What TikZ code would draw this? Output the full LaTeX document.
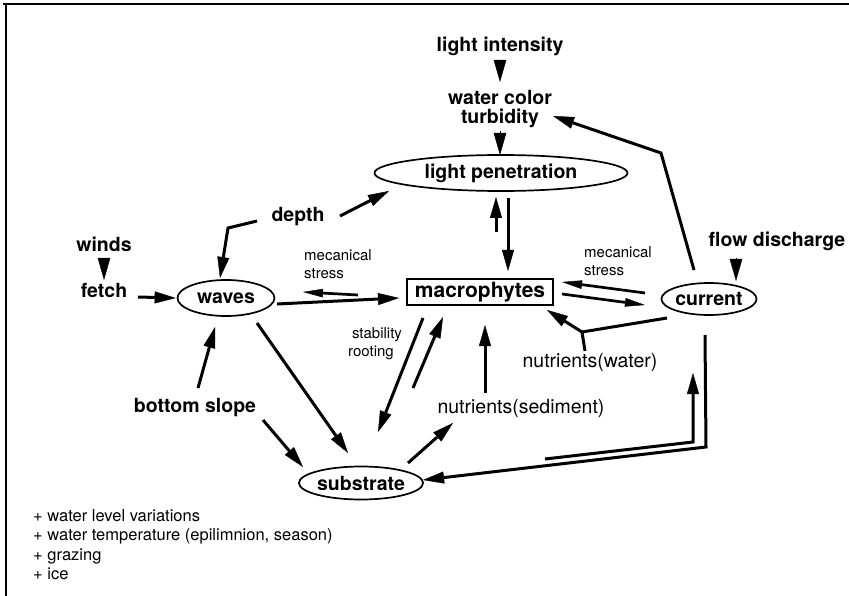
\documentclass[tikz,border=0pt]{standalone}
\usepackage{fontspec}
\setmainfont{TeX Gyre Heros}
\usetikzlibrary{arrows.meta,shapes.geometric,calc}
\begin{document}
\begin{tikzpicture}[x=1pt,y=-1pt,
  bt/.style={font=\fontsize{19.5}{22}\selectfont\bfseries, inner sep=0pt, text height=14pt, text depth=4pt},
  ell/.style={ellipse, draw, line width=1.7pt, inner sep=0pt, font=\fontsize{19.5}{22}\selectfont\bfseries},
  nt/.style={font=\fontsize{19.5}{22}\selectfont, inner sep=0pt, text height=14pt, text depth=4pt},
  sm/.style={font=\fontsize{15}{18}\selectfont, inner sep=0pt, align=left},
  fn/.style={font=\fontsize{16.5}{19}\selectfont, inner sep=0pt, anchor=base west},
  arr/.style={line width=3pt, -{Triangle[length=21pt,width=12pt,line width=0.4pt]}},
  sarr/.style={line width=2.7pt, -{Triangle[length=20pt,width=8.5pt,line width=0.4pt]}},
  tri/.style={line width=1pt, -{Triangle[length=22pt,width=12.5pt,line width=0.4pt]}},
  ln/.style={line width=3pt}
]
\useasboundingbox (0,0) rectangle (849,596);
% frame
\draw[line width=1.5pt] (3,4) -- (849,4);
\draw[line width=1.5pt] (6,4) -- (6,596);

% nodes
\node[bt] (lint) at (500,47) {light intensity};
\node[font=\fontsize{19.5}{18.5}\selectfont\bfseries, inner sep=0pt, align=center] (wcol) at (500,109) {water color\\turbidity};
\node[ell, minimum width=253pt, minimum height=36pt] (lpen) at (501,173) {light penetration};
\node[bt] (depth) at (298,217) {depth};
\node[bt] (winds) at (104,247) {winds};
\node[bt] (fetch) at (104,293) {fetch};
\node[ell, minimum width=97pt, minimum height=36pt] (waves) at (226,298) {waves};
\node[draw, line width=1.4pt, minimum width=146pt, minimum height=26pt, inner sep=0pt, font=\fontsize{21}{24}\selectfont\bfseries] (macro) at (480,292) {macrophytes};
\node[ell, minimum width=95pt, minimum height=32pt] (current) at (709,299) {current};
\node[bt] (flowd) at (777,242) {flow discharge};
\node[nt] (nutw) at (590,362) {nutrients(water)};
\node[nt] (nuts) at (521,408) {nutrients(sediment)};
\node[bt] (bslope) at (195,407) {bottom slope};
\node[ell, minimum width=114pt, minimum height=33pt] (subs) at (361,483) {substrate};
\node[sm, anchor=west] (ms1) at (304,264) {mecanical\\stress};
\node[sm, anchor=west] (ms2) at (584,261) {mecanical\\stress};
\node[sm, align=center] (stab) at (377,344) {stability\\rooting\kern12pt};
\node[fn] (fn1) at (33,521) {+ water level variations};
\node[fn] (fn2) at (33,540.5) {+ water temperature (epilimnion, season)};
\node[fn] (fn3) at (33,560) {+ grazing};
\node[fn] (fn4) at (33,579.5) {+ ice};
\coordinate (jn) at (582,332);

% connectors
\draw[tri] ($(lint)+(0,13)$) -- ($(wcol)+(0,-27)$);
\draw[tri] ($(wcol)+(0,22)$) -- ($(lpen)+(-1,-18)$);
\draw[arr] ($(depth)+(42,-1)$) -- ($(lpen)+(-112,18)$);
\draw[arr] ($(depth)+(-41,4)$) -- ($(waves)+(2,-70)$) -- ($(waves)+(-6,-20)$);
\draw[tri] ($(winds)+(0,11)$) -- ($(fetch)+(0,-13)$);
\draw[arr] ($(fetch)+(34,4)$) -- ($(waves.west)+(-1,0)$);
\draw[arr] ($(waves)+(51,6)$) -- ($(macro)+(-81,6)$);
\draw[sarr] ($(macro)+(-122,3)$) -- ($(waves)+(77,-6)$);
\draw[arr] ($(lpen)+(7,25)$) -- ($(macro)+(28,-21)$);
\draw[arr] ($(macro)+(16,-60)$) -- ($(lpen)+(-5,24)$);
\draw[sarr] ($(current)+(-64,-6)$) -- ($(macro)+(82,-10)$);
\draw[sarr] ($(macro)+(82,2)$) -- ($(current)+(-64,6)$);
\draw[tri] ($(flowd)+(-41,16)$) -- ($(current)+(27,-18)$);
\draw[arr] ($(current)+(-15,-29)$) -- ($(current)+(-48,-146)$) -- ($(wcol)+(53,7)$);
\draw[ln] ($(current)+(-42,19)$) -- (jn);
\draw[ln] ($(nutw)+(-5,-11)$) -- (jn);
\draw[arr] (jn) -- ($(macro)+(67,18)$);
\draw[arr] ($(current)+(-4,36)$) -- ($(current)+(-3,148)$) -- ($(subs)+(62,-3)$);
\draw[arr] ($(subs)+(184,-24)$) -- ($(current)+(-16,143)$) -- ($(current)+(-16,74)$);
\draw[arr] ($(macro)+(-57,26)$) -- ($(subs)+(17,-51)$);
\draw[arr] ($(subs)+(52,-95)$) -- ($(macro)+(-37,25)$);
\draw[arr] ($(nuts)+(-36,-15)$) -- ($(macro)+(5,33)$);
\draw[arr] ($(subs)+(47,-20)$) -- ($(nuts)+(-68,15)$);
\draw[arr] ($(bslope)+(3,-19)$) -- ($(waves)+(-11,29)$);
\draw[arr] ($(bslope)+(68,13)$) -- ($(subs)+(-58,-16)$);
\draw[arr] ($(waves)+(31,25)$) -- ($(subs)+(-13,-30)$);
\end{tikzpicture}
\end{document}
